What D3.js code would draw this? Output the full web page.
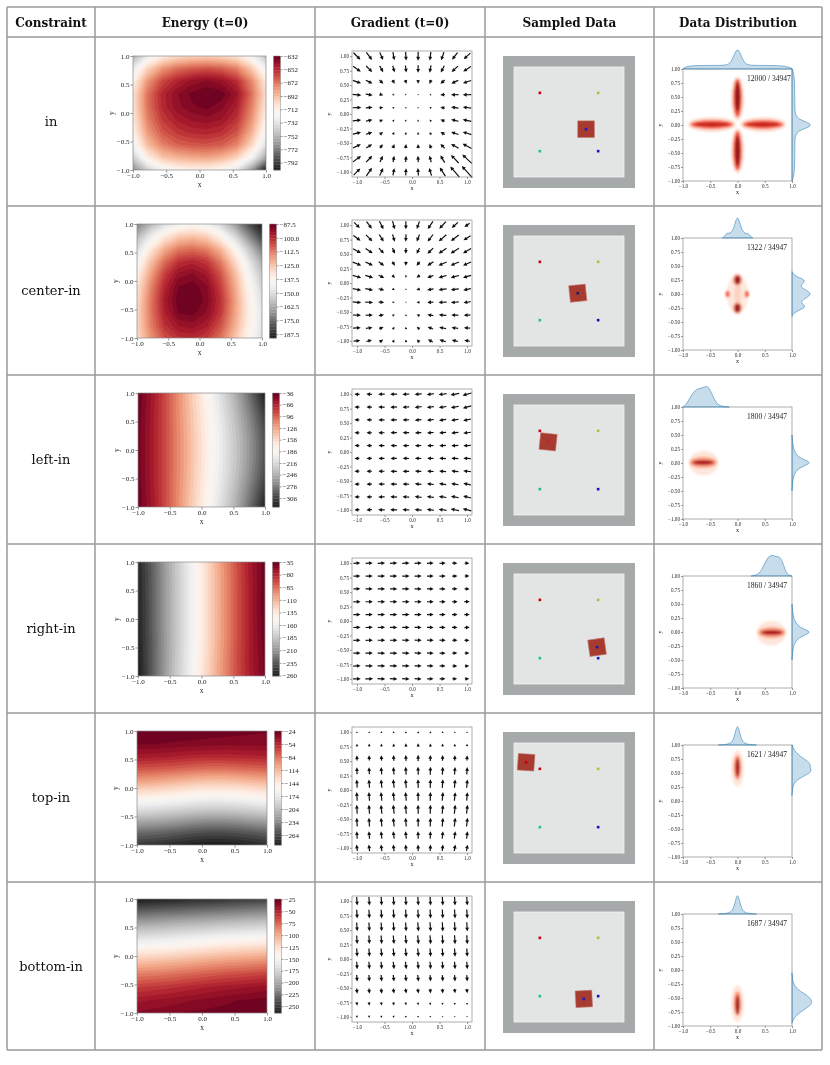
<!DOCTYPE html>
<html>
<head>
<meta charset="utf-8">
<script src="https://cdn.jsdelivr.net/npm/d3@7"></script>
<style>
  body { margin: 0; background: #fff; }
  svg { opacity: 0.999; }
  text { -webkit-font-smoothing: antialiased; }
</style>
</head>
<body>
<svg id="fig" width="830" height="1065"></svg>
<script>
// ---- data ----
var constraints = ["in", "center-in", "left-in", "right-in", "top-in", "bottom-in"];
var headers = ["Constraint", "Energy (t=0)", "Gradient (t=0)", "Sampled Data", "Data Distribution"];
var axisTicks = [-1, -0.5, 0, 0.5, 1];
var fineTicks = [1, 0.75, 0.5, 0.25, 0, -0.25, -0.5, -0.75, -1];

// energy on a 10x10 grid, x = -1..1 left to right, rows from y = 1 (top) to y = -1
var energyIn = [
  [-755, -728, -710, -702, -699, -698, -700, -706, -722, -748],
  [-728, -698, -680, -670, -665, -663, -666, -674, -694, -724],
  [-712, -680, -660, -650, -643, -640, -643, -653, -676, -708],
  [-705, -671, -651, -641, -635, -632, -634, -644, -670, -703],
  [-705, -671, -652, -642, -637, -635, -639, -649, -674, -707],
  [-708, -675, -657, -648, -644, -642, -645, -655, -679, -713],
  [-713, -681, -664, -656, -652, -651, -654, -663, -687, -721],
  [-722, -691, -675, -667, -664, -663, -666, -675, -699, -734],
  [-742, -710, -694, -688, -685, -684, -688, -698, -721, -758],
  [-768, -742, -724, -716, -713, -713, -718, -732, -762, -803]
];
var energyCenterIn = [
  [-172, -160, -150, -143, -141, -143, -152, -165, -180, -191],
  [-160, -145, -133, -126, -124, -127, -136, -150, -168, -183],
  [-150, -133, -120, -112, -110, -113, -122, -137, -155, -172],
  [-142, -124, -110, -101, -99, -102, -112, -128, -146, -163],
  [-136, -118, -103, -94, -92, -96, -106, -122, -140, -157],
  [-132, -114, -99, -90, -88.5, -92, -103, -119, -137, -153],
  [-130, -112, -97, -88.5, -87.5, -91, -101, -117, -135, -150],
  [-129, -112, -98, -90, -89, -93, -102, -118, -134, -148],
  [-129, -113, -101, -95, -94, -97, -106, -120, -135, -148],
  [-130, -116, -106, -101, -100, -103, -111, -124, -138, -150]
];
var energyLeftIn = [
  [-36, -60, -88, -120, -152, -184, -216, -250, -288, -329],
  [-38, -61, -88, -119, -150, -181, -212, -245, -280, -318],
  [-39, -62, -88, -118, -148, -178, -208, -240, -273, -308],
  [-40, -62, -88, -117, -147, -176, -205, -236, -268, -302],
  [-40, -62, -88, -117, -146, -175, -204, -234, -265, -299],
  [-40, -62, -88, -117, -146, -175, -204, -234, -265, -299],
  [-40, -62, -88, -117, -147, -176, -205, -236, -268, -302],
  [-39, -62, -88, -118, -148, -178, -208, -240, -273, -307],
  [-38, -61, -88, -119, -150, -181, -212, -245, -280, -316],
  [-37, -60, -88, -120, -152, -184, -216, -250, -287, -326]
];
var energyRightIn = [
  [-256, -231, -204, -177, -151, -124, -99, -75, -54, -37],
  [-257, -232, -205, -178, -152, -125, -100, -76, -54, -37],
  [-257, -232, -205, -178, -152, -125, -100, -76, -55, -36],
  [-258, -232, -205, -178, -152, -125, -100, -76, -55, -35],
  [-258, -232, -205, -178, -152, -125, -100, -76, -55, -35],
  [-258, -232, -205, -178, -152, -125, -100, -76, -55, -36],
  [-259, -233, -206, -178, -152, -125, -100, -76, -55, -37],
  [-259, -233, -205, -178, -151, -124, -99, -75, -55, -38],
  [-260, -233, -205, -177, -150, -123, -98, -75, -55, -39],
  [-261, -233, -204, -176, -149, -122, -98, -75, -56, -40]
];
var energyTopIn = [
  [-24, -24, -24, -25, -25, -26, -27, -28, -29, -30],
  [-30, -30, -31, -32, -33, -34, -35, -35, -35, -35],
  [-47, -48, -49, -51, -53, -54, -54, -53, -52, -51],
  [-73, -74, -76, -79, -82, -84, -84, -82, -80, -78],
  [-104, -106, -109, -113, -117, -119, -119, -117, -114, -111],
  [-139, -141, -144, -148, -152, -154, -154, -152, -148, -145],
  [-175, -177, -180, -184, -188, -190, -190, -188, -184, -180],
  [-212, -214, -217, -221, -225, -227, -227, -225, -221, -217],
  [-246, -248, -251, -255, -259, -261, -261, -259, -255, -251],
  [-272, -275, -278, -282, -285, -287, -287, -285, -281, -276]
];
var energyBottomIn = [
  [-264, -262, -260, -258, -256, -254, -252, -250, -248, -246],
  [-232, -230, -228, -226, -224, -222, -220, -218, -216, -214],
  [-200, -198, -196, -193, -191, -189, -186, -184, -182, -180],
  [-168, -166, -164, -161, -158, -155, -152, -150, -148, -146],
  [-137, -135, -133, -130, -127, -124, -121, -119, -117, -115],
  [-108, -106, -104, -101, -98, -95, -92, -90, -88, -86],
  [-82, -80, -78, -75, -72, -69, -66, -64, -62, -60],
  [-60, -58, -56, -53, -50, -47, -45, -43, -41, -39],
  [-44, -42, -40, -38, -36, -34, -32, -30, -29, -28],
  [-35, -33, -32, -30, -29, -28, -27, -26, -25, -24]
];
var energyGrids = [energyIn, energyCenterIn, energyLeftIn, energyRightIn, energyTopIn, energyBottomIn];
var energyRanges = [[-803, -632], [-191, -87.5], [-329, -36], [-261, -35], [-287, -24], [-264, -24]];
var colorbarTicks = [
  [-632, -652, -672, -692, -712, -732, -752, -772, -792],
  [-87.5, -100, -112.5, -125, -137.5, -150, -162.5, -175, -187.5],
  [-36, -66, -96, -126, -156, -186, -216, -246, -276, -306],
  [-35, -60, -85, -110, -135, -160, -185, -210, -235, -260],
  [-24, -54, -84, -114, -144, -174, -204, -234, -264],
  [-25, -50, -75, -100, -125, -150, -175, -200, -225, -250]
];
var colorbarFormats = ["d", ".1f", "d", "d", "d", "d"];

// sampled data: four goals and the object (x, y, rotation in degrees)
var goalX = [-0.53, 0.53, -0.53, 0.53];
var goalY = [0.53, 0.53, -0.53, -0.53];
var goalColors = ["#c8000a", "#9ccc2e", "#1fbf88", "#1010c8"];
var objectX = [0.31, 0.16, -0.38, 0.51, -0.78, 0.27];
var objectY = [-0.13, -0.04, 0.33, -0.33, 0.65, -0.58];
var objectRot = [0, -6, 6, -8, 4, -3];
var objectDot = ["#1a1ad0", "#202060", "#c02020", "#1a1ab0", "#c8000a", "#1a1ad0"];

// data distribution
var sampleCounts = [12000, 1322, 1800, 1860, 1621, 1687];
var totalSamples = 34947;
// density blobs: [cx, cy, rx, ry, intensity]
var blobsIn = [
  [-0.47, 0.01, 0.44, 0.13, 0.15], [0.47, 0.01, 0.42, 0.13, 0.15], [0, 0.47, 0.12, 0.39, 0.15], [0, -0.46, 0.12, 0.4, 0.15],
  [-0.47, 0.01, 0.39, 0.08, 0.55], [0.47, 0.01, 0.37, 0.08, 0.55], [0, 0.48, 0.08, 0.34, 0.6], [0, -0.46, 0.08, 0.35, 0.6],
  [-0.47, 0.01, 0.32, 0.035, 0.8], [0.47, 0.01, 0.3, 0.035, 0.8], [0, 0.5, 0.04, 0.26, 0.95], [0, -0.46, 0.04, 0.27, 0.95]
];
var blobsCenterIn = [
  [0, 0, 0.2, 0.34, 0.08], [0, 0, 0.06, 0.2, 0.18],
  [0, 0.25, 0.09, 0.11, 0.3], [0, -0.25, 0.09, 0.11, 0.3],
  [0, 0.25, 0.055, 0.075, 0.9], [0, -0.25, 0.055, 0.075, 0.9],
  [-0.18, 0, 0.04, 0.06, 0.55], [0.17, 0, 0.04, 0.06, 0.55]
];
var blobsLeftIn = [[-0.62, 0.0, 0.27, 0.22, 0.1], [-0.63, 0.01, 0.25, 0.1, 0.35], [-0.63, 0.01, 0.2, 0.045, 0.85]];
var blobsRightIn = [[0.62, -0.02, 0.27, 0.22, 0.1], [0.63, -0.01, 0.25, 0.1, 0.35], [0.63, -0.01, 0.2, 0.045, 0.85]];
var blobsTopIn = [[0, 0.58, 0.12, 0.32, 0.1], [0, 0.6, 0.07, 0.22, 0.4], [0, 0.6, 0.035, 0.17, 0.9]];
var blobsBottomIn = [[0, -0.6, 0.12, 0.33, 0.1], [0, -0.6, 0.07, 0.22, 0.4], [0, -0.62, 0.035, 0.17, 0.9]];
var densityBlobs = [blobsIn, blobsCenterIn, blobsLeftIn, blobsRightIn, blobsTopIn, blobsBottomIn];

// marginal densities: [value, relative density]
var marginX = [
  [[-1, 0.02], [-0.95, 0.1], [-0.85, 0.16], [-0.6, 0.17], [-0.35, 0.17], [-0.2, 0.18], [-0.12, 0.3], [-0.06, 0.7], [0, 1], [0.06, 0.7], [0.12, 0.3], [0.2, 0.18], [0.35, 0.17], [0.6, 0.17], [0.85, 0.15], [0.95, 0.08], [1, 0.02]],
  [[-0.28, 0], [-0.23, 0.1], [-0.2, 0.24], [-0.16, 0.22], [-0.12, 0.25], [-0.07, 0.45], [-0.03, 0.85], [0, 1], [0.03, 0.85], [0.07, 0.45], [0.12, 0.25], [0.16, 0.2], [0.2, 0.22], [0.24, 0.08], [0.28, 0]],
  [[-1, 0.02], [-0.95, 0.08], [-0.88, 0.4], [-0.8, 0.75], [-0.72, 0.88], [-0.65, 0.9], [-0.58, 1], [-0.52, 0.92], [-0.46, 0.55], [-0.38, 0.15], [-0.3, 0.03], [-0.15, 0]],
  [[0.25, 0], [0.38, 0.05], [0.46, 0.35], [0.53, 0.8], [0.6, 0.97], [0.66, 1], [0.7, 0.9], [0.76, 0.95], [0.82, 0.75], [0.88, 0.22], [0.93, 0.04], [1, 0]],
  [[-0.35, 0], [-0.15, 0.03], [-0.08, 0.2], [-0.04, 0.6], [0, 1], [0.04, 0.6], [0.08, 0.2], [0.15, 0.03], [0.35, 0]],
  [[-0.35, 0], [-0.15, 0.03], [-0.08, 0.2], [-0.04, 0.6], [0, 1], [0.04, 0.6], [0.08, 0.2], [0.15, 0.03], [0.35, 0]]
];
var marginY = [
  [[1, 0.02], [0.95, 0.06], [0.85, 0.12], [0.6, 0.14], [0.3, 0.14], [0.18, 0.16], [0.1, 0.35], [0.05, 0.75], [0, 1], [-0.05, 0.75], [-0.1, 0.35], [-0.18, 0.16], [-0.3, 0.14], [-0.6, 0.14], [-0.85, 0.12], [-0.95, 0.05], [-1, 0.01]],
  [[0.4, 0], [0.33, 0.1], [0.28, 0.45], [0.24, 0.67], [0.17, 0.5], [0.13, 0.42], [0.07, 0.7], [0, 1], [-0.07, 0.7], [-0.13, 0.45], [-0.17, 0.5], [-0.22, 0.7], [-0.27, 0.5], [-0.33, 0.1], [-0.4, 0]],
  [[0.5, 0], [0.3, 0.04], [0.15, 0.18], [0.07, 0.5], [0.01, 1], [-0.05, 0.6], [-0.12, 0.22], [-0.25, 0.05], [-0.5, 0]],
  [[0.5, 0], [0.3, 0.04], [0.15, 0.18], [0.06, 0.5], [0, 1], [-0.06, 0.6], [-0.13, 0.22], [-0.26, 0.05], [-0.5, 0]],
  [[1, 0.02], [0.9, 0.1], [0.8, 0.4], [0.72, 0.75], [0.65, 0.95], [0.6, 0.88], [0.54, 1], [0.48, 0.8], [0.42, 0.45], [0.35, 0.15], [0.25, 0.03], [0.1, 0]],
  [[-0.05, 0], [-0.2, 0.03], [-0.3, 0.15], [-0.38, 0.4], [-0.45, 0.75], [-0.52, 0.95], [-0.58, 1], [-0.64, 0.9], [-0.72, 0.55], [-0.8, 0.25], [-0.88, 0.06], [-0.95, 0]]
];

// ---- layout ----
var colX = [7, 95, 315, 485, 654, 822];
var rowY = [7, 37, 206, 375, 544, 713, 882, 1050];
var energyBox = [[133, 266, 56], [137, 262, 224], [138, 265, 393], [138, 265, 562], [137, 267, 731], [137, 267, 899]];
var energyH = 114;
var serif = "Liberation Serif, Times New Roman, serif";
var tableFont = "DejaVu Serif, serif";

var svg = d3.select("#fig");
var defs = svg.append("defs");
defs.append("filter").attr("id", "soft")
  .attr("x", "-50%").attr("y", "-50%").attr("width", "200%").attr("height", "200%")
  .append("feGaussianBlur").attr("stdDeviation", 1.3);

var clipId = 0;
function clipRect(x0, y0, w, h) {
  var id = "clip" + (clipId++);
  defs.append("clipPath").attr("id", id).append("rect")
    .attr("x", x0).attr("y", y0).attr("width", w).attr("height", h);
  return "url(#" + id + ")";
}

function styleAxis(a, fs) {
  a.select(".domain").remove();
  a.selectAll("line").attr("stroke", "#333").attr("stroke-width", 0.5);
  a.selectAll("text").attr("font-family", serif).attr("font-size", fs).attr("fill", "#222");
}

function drawAxes(g, x, y, xt, yt, xf, yf, fs, tl) {
  var ax = g.append("g").attr("transform", "translate(0," + y.range()[0] + ")")
    .call(d3.axisBottom(x).tickValues(xt).tickFormat(d3.format(xf)).tickSize(tl).tickPadding(1));
  var ay = g.append("g").attr("transform", "translate(" + x.range()[0] + ",0)")
    .call(d3.axisLeft(y).tickValues(yt).tickFormat(d3.format(yf)).tickSize(tl).tickPadding(1));
  styleAxis(ax, fs);
  styleAxis(ay, fs);
  g.append("rect")
    .attr("x", x.range()[0]).attr("y", y.range()[1])
    .attr("width", x.range()[1] - x.range()[0]).attr("height", y.range()[0] - y.range()[1])
    .attr("fill", "none").attr("stroke", "#8a8a8a").attr("stroke-width", 0.7);
}

function axisLabels(g, x, y, fs, dx, dy) {
  var cx = (x.range()[0] + x.range()[1]) / 2, cy = (y.range()[0] + y.range()[1]) / 2;
  g.append("text").attr("x", cx).attr("y", y.range()[0] + dy).attr("text-anchor", "middle")
    .attr("font-family", serif).attr("font-size", fs).attr("fill", "#222").text("x");
  g.append("text").attr("transform", "translate(" + (x.range()[0] - dx) + "," + cy + ") rotate(-90)")
    .attr("text-anchor", "middle").attr("font-family", serif).attr("font-size", fs).attr("fill", "#222").text("y");
}

// ---- energy contour plots ----
function drawEnergy(k) {
  var b = energyBox[k], grid = energyGrids[k];
  var lo = energyRanges[k][0], hi = energyRanges[k][1];
  var g = svg.append("g");
  var x = d3.scaleLinear().domain([-1, 1]).range([b[0], b[1]]);
  var y = d3.scaleLinear().domain([-1, 1]).range([b[2] + energyH, b[2]]);
  var nLev = 40;
  var levels = d3.range(nLev + 1).map(function(i) { return lo + (hi - lo) * i / nLev; });
  var color = function(v) { return d3.interpolateRdGy(1 - (v - lo) / (hi - lo)); };
  var n = grid.length, h = 2 / (n - 1);
  var proj = d3.geoTransform({
    point: function(px, py) { this.stream.point(x(-1 + (px - 0.5) * h), y(1 - (py - 0.5) * h)); }
  });
  var path = d3.geoPath(proj);
  var bands = d3.contours().size([n, n]).thresholds(levels.slice(0, nLev))(grid.flat());
  var plot = g.append("g").attr("clip-path", clipRect(b[0], b[2], b[1] - b[0], energyH));
  plot.append("rect").attr("x", b[0]).attr("y", b[2]).attr("width", b[1] - b[0]).attr("height", energyH)
    .attr("fill", color(lo));
  plot.selectAll("path").data(bands).join("path")
    .attr("d", path)
    .attr("fill", function(d) { return color(d.value + (hi - lo) / nLev / 2); })
    .attr("stroke", function(d) { return color(d.value + (hi - lo) / nLev / 2); })
    .attr("stroke-width", 0.3);
  drawAxes(g, x, y, axisTicks, axisTicks, ".1f", ".1f", 7, 2.5);
  axisLabels(g, x, y, 7.5, 19, 17);

  // colorbar
  var cb0 = b[1] + 7.5, cbw = 7;
  var cy = d3.scaleLinear().domain([lo, hi]).range([b[2] + energyH, b[2]]);
  g.selectAll("rect.band").data(d3.range(nLev)).join("rect").attr("class", "band")
    .attr("x", cb0).attr("width", cbw)
    .attr("y", function(i) { return cy(levels[i + 1]); })
    .attr("height", function(i) { return cy(levels[i]) - cy(levels[i + 1]) + 0.3; })
    .attr("fill", function(i) { return color((levels[i] + levels[i + 1]) / 2); });
  var ac = g.append("g").attr("transform", "translate(" + (cb0 + cbw) + ",0)")
    .call(d3.axisRight(cy).tickValues(colorbarTicks[k]).tickFormat(d3.format(colorbarFormats[k])).tickSize(2).tickPadding(1));
  styleAxis(ac, 7);
  g.append("rect").attr("x", cb0).attr("y", b[2]).attr("width", cbw).attr("height", energyH)
    .attr("fill", "none").attr("stroke", "#8a8a8a").attr("stroke-width", 0.5);
}

// ---- gradient quiver plots ----
function gradientOf(grid) {
  var n = grid.length, h = 2 / (n - 1), out = [];
  for (var j = 0; j < n; j++) {
    for (var i = 0; i < n; i++) {
      var gx = i === 0 ? (grid[j][1] - grid[j][0]) / h
        : i === n - 1 ? (grid[j][n - 1] - grid[j][n - 2]) / h
        : (grid[j][i + 1] - grid[j][i - 1]) / (2 * h);
      var gdown = j === 0 ? (grid[1][i] - grid[0][i]) / h
        : j === n - 1 ? (grid[n - 1][i] - grid[n - 2][i]) / h
        : (grid[j + 1][i] - grid[j - 1][i]) / (2 * h);
      out.push({ x: -1 + i * h, y: 1 - j * h, u: gx, v: -gdown });
    }
  }
  return out;
}

function arrowPath(L) {
  var hl = 3.8, hw = 1.9, sw = 0.6;
  if (L < hl * 1.1) {
    var f = L / (hl * 1.1);
    hl *= f; hw *= Math.max(f, 0.55); sw *= Math.max(f, 0.7);
  }
  var x0 = -L / 2, x1 = L / 2, xh = x1 - hl;
  return "M" + x0 + "," + (-sw) + "L" + xh + "," + (-sw) + "L" + xh + "," + (-hw) +
    "L" + x1 + ",0L" + xh + "," + hw + "L" + xh + "," + sw + "L" + x0 + "," + sw + "Z";
}

function drawGradient(k) {
  var top = rowY[k + 1] + 14, left = 352, w = 120, hgt = 126;
  var g = svg.append("g");
  var x = d3.scaleLinear().domain([-1.09, 1.09]).range([left, left + w]);
  var y = d3.scaleLinear().domain([-1.09, 1.09]).range([top + hgt, top]);
  var field = gradientOf(energyGrids[k]);
  var mags = field.map(function(d) { return Math.hypot(d.u, d.v); });
  var mean = d3.mean(mags);
  var unit = w / 18;
  g.selectAll("path.arrow").data(field).join("path").attr("class", "arrow")
    .attr("d", function(d, i) { return arrowPath(Math.max(mags[i] / mean * unit, 0.9)); })
    .attr("transform", function(d) {
      var ang = Math.atan2(-d.v, d.u) * 180 / Math.PI;
      return "translate(" + x(d.x) + "," + y(d.y) + ") rotate(" + ang + ")";
    })
    .attr("fill", "#111");
  drawAxes(g, x, y, axisTicks, fineTicks, ".1f", ".2f", 5.2, 2);
  axisLabels(g, x, y, 6, 21, 13);
}

// ---- sampled data ----
function drawSample(k) {
  var top = rowY[k + 1] + 19;
  var g = svg.append("g");
  var sx = d3.scaleLinear().domain([-1.2, 1.2]).range([503, 635]);
  var sy = d3.scaleLinear().domain([-1.2, 1.2]).range([top + 132, top]);
  g.append("rect").attr("x", sx(-1.2)).attr("y", sy(1.2))
    .attr("width", sx(1.2) - sx(-1.2)).attr("height", sy(-1.2) - sy(1.2)).attr("fill", "#a6a9a9");
  g.append("rect").attr("x", sx(-1)).attr("y", sy(1))
    .attr("width", sx(1) - sx(-1)).attr("height", sy(-1) - sy(1))
    .attr("fill", "#e3e5e5").attr("stroke", "#f2f3f3").attr("stroke-width", 0.8);
  g.selectAll("rect.goal").data(goalX).join("rect").attr("class", "goal")
    .attr("x", function(d) { return sx(d) - 1.3; })
    .attr("y", function(d, i) { return sy(goalY[i]) - 1.3; })
    .attr("width", 2.6).attr("height", 2.6)
    .attr("fill", function(d, i) { return goalColors[i]; });
  var side = 0.15;
  var ob = g.append("g")
    .attr("transform", "translate(" + sx(objectX[k]) + "," + sy(objectY[k]) + ") rotate(" + objectRot[k] + ")");
  ob.append("rect").attr("x", sx(-side) - sx(0)).attr("y", sx(-side) - sx(0))
    .attr("width", sx(side) - sx(-side)).attr("height", sx(side) - sx(-side))
    .attr("fill", "#a83b2f").attr("stroke", "#c07067").attr("stroke-width", 0.6);
  ob.append("rect").attr("x", -1.3).attr("y", -1.3).attr("width", 2.6).attr("height", 2.6)
    .attr("fill", objectDot[k]);
}

// ---- data distribution ----
function drawDistribution(k) {
  var top = rowY[k + 1] + 32, left = 683, w = 109, hgt = 112;
  var g = svg.append("g");
  var x = d3.scaleLinear().domain([-1, 1]).range([left, left + w]);
  var y = d3.scaleLinear().domain([-1, 1]).range([top + hgt, top]);
  var plot = g.append("g").attr("clip-path", clipRect(left, top, w, hgt));
  plot.append("g").attr("filter", "url(#soft)")
    .selectAll("ellipse").data(densityBlobs[k]).join("ellipse")
    .attr("cx", function(d) { return x(d[0]); })
    .attr("cy", function(d) { return y(d[1]); })
    .attr("rx", function(d) { return d[2] * w / 2; })
    .attr("ry", function(d) { return d[3] * hgt / 2; })
    .attr("fill", function(d) { return d3.interpolateReds(d[4]); })
    .attr("fill-opacity", 0.9);
  drawAxes(g, x, y, axisTicks, fineTicks, ".1f", ".2f", 5.2, 2);
  axisLabels(g, x, y, 6, 21, 13);
  g.append("text").attr("x", 747).attr("y", top + 11.5)
    .attr("font-family", serif).attr("font-size", 7.6).attr("fill", "#222")
    .text(sampleCounts[k] + " / " + totalSamples);

  var topArea = d3.area().curve(d3.curveBasis)
    .x(function(d) { return x(d[0]); })
    .y0(top).y1(function(d) { return top - d[1] * 21; });
  var rightArea = d3.area().curve(d3.curveBasis)
    .y(function(d) { return y(d[0]); })
    .x0(left + w).x1(function(d) { return left + w + d[1] * 20; });
  [[marginX[k], topArea], [marginY[k], rightArea]].forEach(function(m) {
    g.append("path").datum(m[0]).attr("d", m[1])
      .attr("fill", "#1f77b4").attr("fill-opacity", 0.25)
      .attr("stroke", "#1f77b4").attr("stroke-opacity", 0.65).attr("stroke-width", 0.8);
  });
}

// ---- table ----
var table = svg.append("g");
table.selectAll("text.head").data(headers).join("text").attr("class", "head")
  .attr("x", function(d, i) { return (colX[i] + colX[i + 1]) / 2; })
  .attr("y", 26.5)
  .attr("text-anchor", "middle").attr("font-family", tableFont).attr("font-weight", "bold")
  .attr("font-size", 12).attr("fill", "#111").text(function(d) { return d; });
table.selectAll("text.row").data(constraints).join("text").attr("class", "row")
  .attr("x", (colX[0] + colX[1]) / 2)
  .attr("y", function(d, i) { return (rowY[i + 1] + rowY[i + 2]) / 2 + 4.5; })
  .attr("text-anchor", "middle").attr("font-family", tableFont)
  .attr("font-size", 13).attr("fill", "#111").text(function(d) { return d; });

constraints.forEach(function(c, k) {
  drawEnergy(k);
  drawGradient(k);
  drawSample(k);
  drawDistribution(k);
});

table.selectAll("line.h").data(rowY).join("line").attr("class", "h")
  .attr("x1", colX[0]).attr("x2", colX[colX.length - 1])
  .attr("y1", function(d) { return d; }).attr("y2", function(d) { return d; })
  .attr("stroke", "#9a9a9a").attr("stroke-width", 1.5);
table.selectAll("line.v").data(colX).join("line").attr("class", "v")
  .attr("y1", rowY[0]).attr("y2", rowY[rowY.length - 1])
  .attr("x1", function(d) { return d; }).attr("x2", function(d) { return d; })
  .attr("stroke", "#9a9a9a").attr("stroke-width", 1.5);
</script>
</body>
</html>
